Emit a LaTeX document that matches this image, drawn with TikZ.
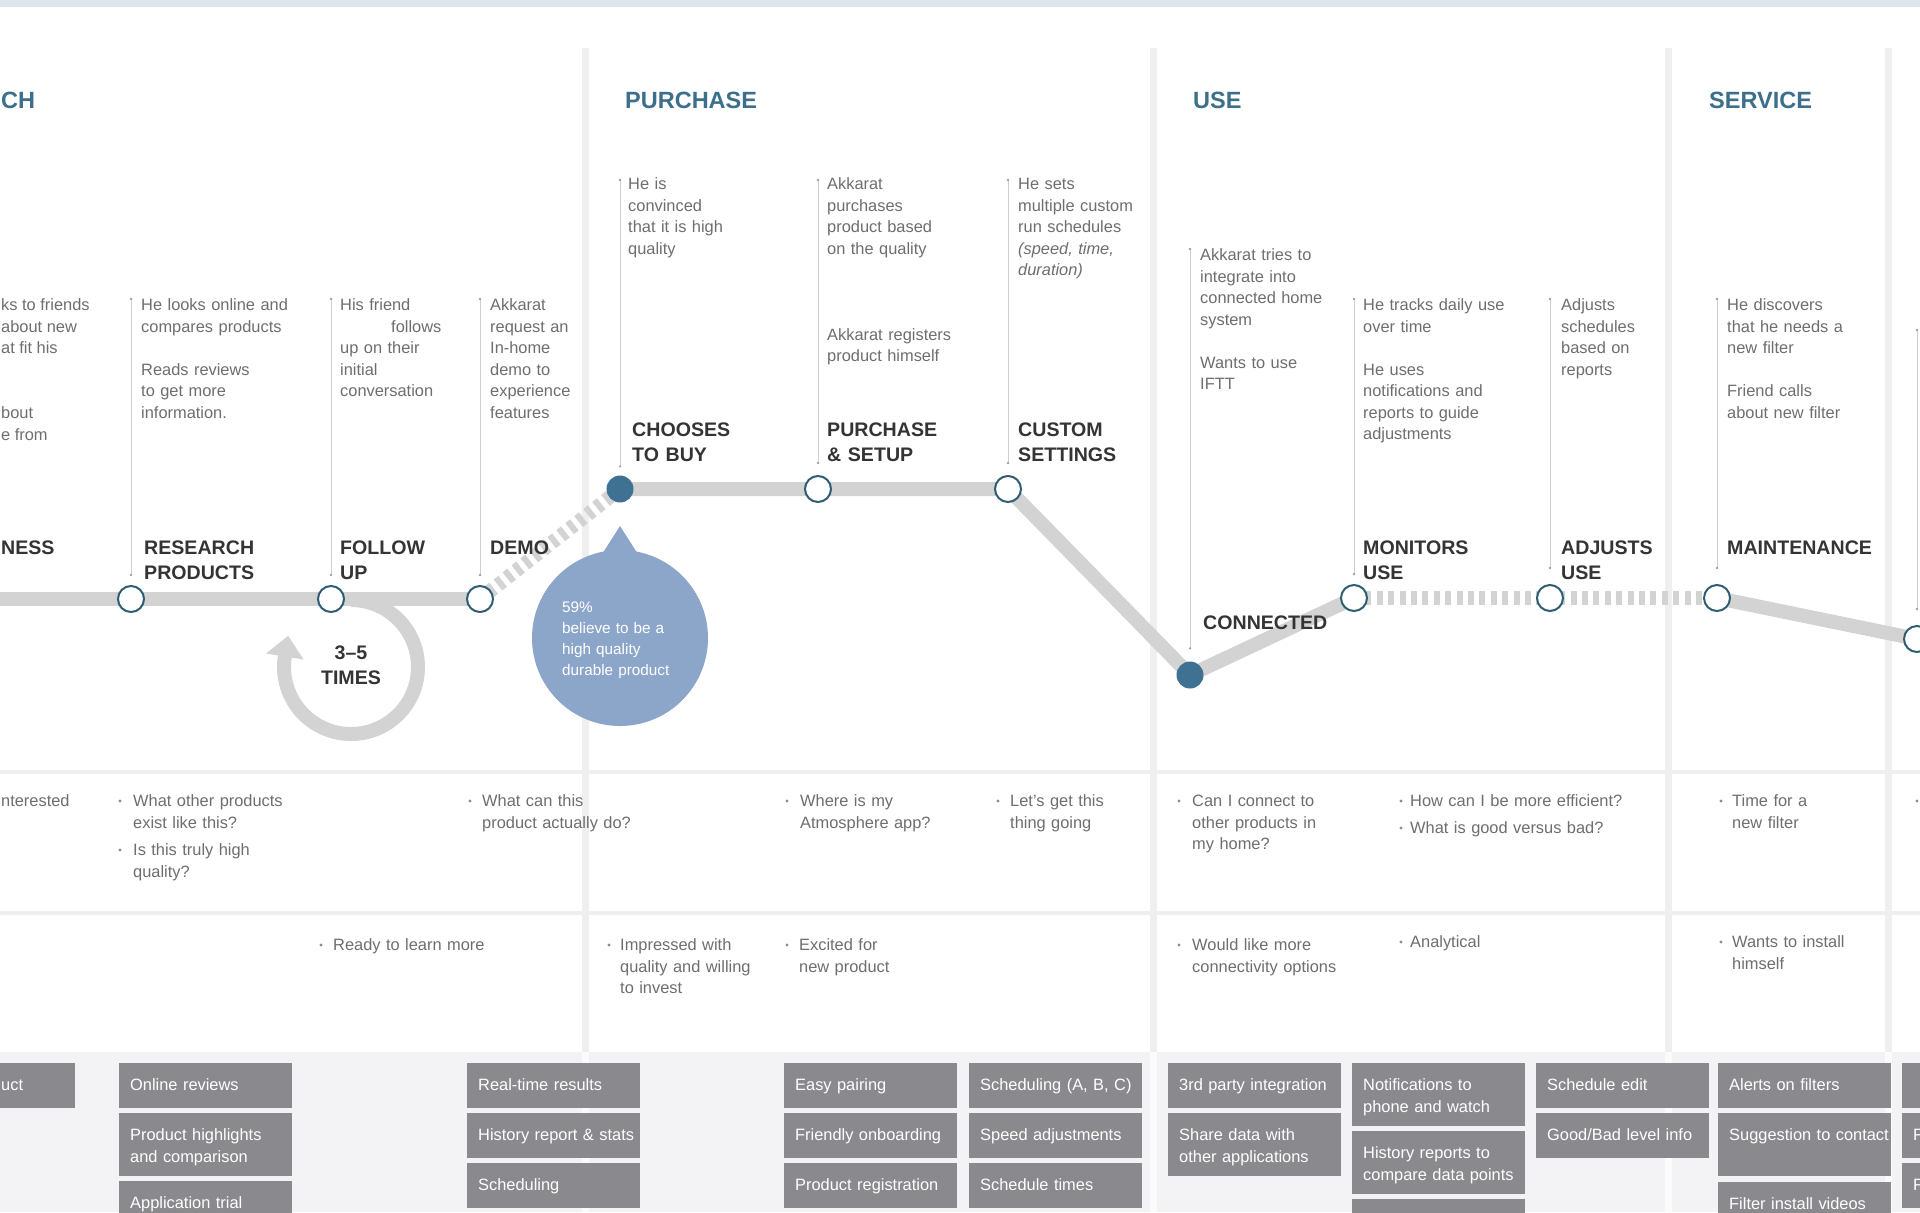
\documentclass[tikz,border=0pt]{standalone}
\usepackage{fontspec}
\setmainfont{Liberation Sans}
\usetikzlibrary{calc}
\definecolor{titleblue}{HTML}{3C6F8B}
\definecolor{stagedark}{HTML}{343434}
\definecolor{txtgrey}{HTML}{6E6E6E}
\definecolor{trailgrey}{HTML}{D3D3D3}
\definecolor{ringc}{HTML}{2F5E74}
\definecolor{nodeblue}{HTML}{3E7192}
\definecolor{bubblue}{HTML}{8CA6CA}
\definecolor{sepgrey}{HTML}{EFEFEF}
\definecolor{seplight}{HTML}{FBFBFC}
\definecolor{vlinegrey}{HTML}{CFCFCF}
\definecolor{dotgrey}{HTML}{A0A0A0}
\definecolor{bulgrey}{HTML}{8C8C8C}
\definecolor{boxgrey}{HTML}{8A8A8E}
\definecolor{bandgrey}{HTML}{F3F3F5}
\definecolor{topband}{HTML}{DDE6EE}
\newcommand\dscfont{\fontsize{16.4bp}{21.5bp}\selectfont}
\newcommand\stgfont{\fontsize{19.6bp}{25.5bp}\selectfont\bfseries}
\newcommand\ttlfont{\fontsize{23.5bp}{28bp}\selectfont\bfseries}
\newcommand\bubfont{\fontsize{15.3bp}{21.3bp}\selectfont}
\pgfdeclarelayer{back}
\pgfdeclarelayer{mid}
\pgfsetlayers{back,mid,main}
\begin{document}
\begin{tikzpicture}[x=1bp,y=-1bp,
  trail/.style={draw=trailgrey,line width=14bp,line join=round},
  trailD/.style={trail,dash pattern=on 6bp off 5.4bp},
  stepnode/.style={circle,draw=ringc,line width=2bp,fill=white,minimum size=26bp,inner sep=0pt},
  keynode/.style={circle,fill=nodeblue,minimum size=27bp,inner sep=0pt},
  desc/.style={font=\dscfont,text=txtgrey,inner sep=0pt,anchor=base west,align=left,text width=300bp},
  frag/.style={font=\dscfont,text=txtgrey,inner sep=0pt,anchor=base west},
  stage/.style={font=\stgfont,text=stagedark,inner sep=0pt,anchor=base west,align=left,text width=220bp},
  ttl/.style={font=\ttlfont,text=titleblue,inner sep=0pt,anchor=base west},
  vline/.style={draw=vlinegrey,line width=1bp},
  gbox/.style={fill=boxgrey,anchor=north west,inner sep=0pt,minimum width=173bp},
  btxt/.style={font=\dscfont,text=white,inner sep=0pt,anchor=base west,align=left,text width=175bp},
]
\useasboundingbox (0,0) rectangle (1920,1212);
\clip (0,0) rectangle (1920,1212);

% ---------- background structure
\begin{pgfonlayer}{back}
  \clip (0,0) rectangle (1920,1212);
  \fill[white] (0,0) rectangle (1920,1212);
  \fill[topband] (0,0) rectangle (1920,7);
  \fill[bandgrey] (0,1052) rectangle (1920,1212);
  \foreach \sx in {585,1153,1668,1888}{
    \fill[sepgrey] (\sx-3.5,48) rectangle (\sx+3.5,1052);
    \fill[seplight] (\sx-3.5,1052) rectangle (\sx+3.5,1212);
  }
  \fill[sepgrey] (0,770) rectangle (1920,774);
  \fill[sepgrey] (0,911) rectangle (1920,915);
\end{pgfonlayer}

% ---------- titles
\node[ttl] (tch) at (1,108.5) {CH};
\node[ttl] (tpur) at (625,108.5) {PURCHASE};
\node[ttl] (tuse) at (1193,108.5) {USE};
\node[ttl] (tser) at (1709,108.5) {SERVICE};

% ---------- journey nodes
\coordinate (l0) at (-10,599);
\node[stepnode] (nres) at (131,599) {};
\node[stepnode] (nfol) at (331,599) {};
\node[stepnode] (ndemo) at (480,599) {};
\node[keynode] (nbuy) at (620,489) {};
\node[stepnode] (nset) at (818,489) {};
\node[stepnode] (ncus) at (1008,489) {};
\node[keynode] (ncon) at (1190,675) {};
\node[stepnode] (nmon) at (1354,598) {};
\node[stepnode] (nadj) at (1550,598) {};
\node[stepnode] (nmnt) at (1717,598) {};
\node[stepnode] (nr) at (1917,639) {};

% ---------- trail, loop, description lines
\begin{pgfonlayer}{mid}
  \clip (0,0) rectangle (1920,1212);
  \draw[trail] (l0) -- (nres.center) -- (nfol.center) -- (ndemo.center);
  \draw[trailD] (ndemo.center) -- (nbuy.center);
  \draw[trail] (nbuy.center) -- (nset.center) -- (ncus.center) -- (ncon.center) -- (nmon.center);
  \draw[trailD] (nmon.center) -- (nadj.center) -- (nmnt.center);
  \draw[trail] (nmnt.center) -- (nr.center);
  % loop
  \coordinate (lc) at (351,667);
  \draw[trail] (351,600) arc[start angle=-90,end angle=190,radius=67];
  \fill[trailgrey] ($(lc)+(189:86)$) -- ($(lc)+(189:67)+(279:21)$) -- ($(lc)+(189:48)$) -- cycle;
  % description lines
  \foreach \tx/\ty/\nd/\gp in {131/299/nres/10, 331/299/nfol/10, 480/299/ndemo/10,
      620/180/nbuy/9, 818/180/nset/12, 1008/180/ncus/12, 1190/249/ncon/13,
      1354/299/nmon/10, 1550/299/nadj/16, 1717/299/nmnt/16, 1917/330/nr/16}{
    \coordinate (top) at (\tx,\ty);
    \draw[vline] (top) -- ([yshift=\gp bp]\nd.north) coordinate (bot);
    \fill[dotgrey] (top) circle[radius=1.3bp] (bot) circle[radius=1.3bp];
  }
\end{pgfonlayer}

% ---------- bubble
\fill[bubblue] (620,526) -- (597,562) -- (643,562) -- cycle;
\node[circle,fill=bubblue,minimum size=176bp,inner sep=0pt] (bub) at (620,638) {};
\node[font=\bubfont,text=white,inner sep=0pt,anchor=base west,align=left,text width=150bp] (bubt) at (562,612) {59\%\\believe to be a\\high quality\\durable product};

% ---------- loop label
\node[font=\stgfont,text=stagedark,inner sep=0pt,anchor=base,align=center,text width=100bp] (times) at (351,659) {3–5\\TIMES};

% ---------- stage labels
\node[stage,text width=] (sness) at (1,554) {NESS};
\node[stage] (sres) at (144,554) {RESEARCH\\PRODUCTS};
\node[stage] (sfol) at (340,554) {FOLLOW\\UP};
\node[stage] (sdemo) at (490,554) {DEMO};
\node[stage] (sbuy) at (632,436) {CHOOSES\\TO BUY};
\node[stage] (sset) at (827,436) {PURCHASE\\\& SETUP};
\node[stage] (scus) at (1018,436) {CUSTOM\\SETTINGS};
\node[stage] (scon) at (1203,629) {CONNECTED};
\node[stage] (smon) at (1363,554) {MONITORS\\USE};
\node[stage] (sadj) at (1561,554) {ADJUSTS\\USE};
\node[stage] (smnt) at (1727,554) {MAINTENANCE};

% ---------- descriptions
\node[frag] (f1) at (1,310.5) {ks to friends};
\node[frag] (f2) at (1,332) {about new};
\node[frag] (f3) at (1,353.5) {at fit his};
\node[frag] (f4) at (1,418.5) {bout};
\node[frag] (f5) at (1,440) {e from};
\node[desc] (dres) at (141,310.5) {He looks online and\\compares products\\[21.5bp]Reads reviews\\to get more\\information.};
\node[desc] (dfol) at (340,310.5) {His friend\\\hspace*{51bp}follows\\up on their\\initial\\conversation};
\node[desc] (ddemo) at (490,310.5) {Akkarat\\request an\\In-home\\demo to\\experience\\features};
\node[desc] (dbuy) at (628,189.5) {He is\\convinced\\that it is high\\quality};
\node[desc] (dset) at (827,189.5) {Akkarat\\purchases\\product based\\on the quality\\[64.5bp]Akkarat registers\\product himself};
\node[desc] (dcus) at (1018,189.5) {He sets\\multiple custom\\run schedules\\\textit{(speed, time,}\\\textit{duration)}};
\node[desc] (dcon) at (1200,260.5) {Akkarat tries to\\integrate into\\connected home\\system\\[21.5bp]Wants to use\\IFTT};
\node[desc] (dmon) at (1363,310.5) {He tracks daily use\\over time\\[21.5bp]He uses\\notifications and\\reports to guide\\adjustments};
\node[desc] (dadj) at (1561,310.5) {Adjusts\\schedules\\based on\\reports};
\node[desc] (dmnt) at (1727,310.5) {He discovers\\that he needs a\\new filter\\[21.5bp]Friend calls\\about new filter};

% ---------- questions row
\node[frag] (q0) at (1,806.5) {nterested};
\node[desc] (q1) at (133,806.5) {What other products\\exist like this?};
\node[desc] (q2) at (133,855.5) {Is this truly high\\quality?};
\node[desc] (q3) at (482,806.5) {What can this\\product actually do?};
\node[desc] (q4) at (800,806.5) {Where is my\\Atmosphere app?};
\node[desc] (q5) at (1010,806.5) {Let’s get this\\thing going};
\node[desc] (q6) at (1192,806.5) {Can I connect to\\other products in\\my home?};
\node[desc] (q7) at (1410,806.5) {How can I be more efficient?};
\node[desc] (q8) at (1410,833.5) {What is good versus bad?};
\node[desc] (q9) at (1732,806.5) {Time for a\\new filter};
\foreach \bx/\by in {120/801,120/850,470/801,787/801,998/801,1179/801,1401/801,1401/828,1721/801,1917/801}{
  \fill[bulgrey] (\bx,\by) circle[radius=1.7bp];
}

% ---------- feelings row
\node[desc] (e1) at (333,950.5) {Ready to learn more};
\node[desc] (e2) at (620,950.5) {Impressed with\\quality and willing\\to invest};
\node[desc] (e3) at (799,950.5) {Excited for\\new product};
\node[desc] (e4) at (1192,950.5) {Would like more\\connectivity options};
\node[desc] (e5) at (1410,947.5) {Analytical};
\node[desc] (e6) at (1732,947.5) {Wants to install\\himself};
\foreach \bx/\by in {321/945,609/945,787/945,1179/945,1401/942,1721/942}{
  \fill[bulgrey] (\bx,\by) circle[radius=1.7bp];
}

% ---------- feature boxes
\node[gbox,minimum width=75bp,minimum height=45bp] (ba1) at (0,1063) {};
\node[btxt,text width=] at ([xshift=1bp,yshift=-27.5bp]ba1.north west) {uct};
\foreach \nm/\bx/\by/\bh/\tx in {
  bb1/119/1063/45/{Online reviews},
  bb2/119/1113/63/{Product highlights\\and comparison},
  bb3/119/1181/45/{Application trial},
  bc1/467/1063/45/{Real-time results},
  bc2/467/1113/45/{History report \& stats},
  bc3/467/1163/45/{Scheduling},
  bd1/784/1063/45/{Easy pairing},
  bd2/784/1113/45/{Friendly onboarding},
  bd3/784/1163/45/{Product registration},
  be1/969/1063/45/{Scheduling (A, B, C)},
  be2/969/1113/45/{Speed adjustments},
  be3/969/1163/45/{Schedule times},
  bf1/1168/1063/45/{3rd party integration},
  bf2/1168/1113/63/{Share data with\\other applications},
  bg1/1352/1063/63/{Notifications to\\phone and watch},
  bg2/1352/1131/63/{History reports to\\compare data points},
  bg3/1352/1199/45/{},
  bh1/1536/1063/45/{Schedule edit},
  bh2/1536/1113/45/{Good/Bad level info},
  bi1/1718/1063/45/{Alerts on filters},
  bi2/1718/1113/63/{Suggestion to contact},
  bi3/1718/1182/45/{Filter install videos},
  bj1/1902/1063/45/{},
  bj2/1902/1113/45/{F},
  bj3/1902/1163/45/{F}}{
  \node[gbox,minimum height=\bh bp] (\nm) at (\bx,\by) {};
  \node[btxt] at ([xshift=11bp,yshift=-27.5bp]\nm.north west) {\tx};
}
\end{tikzpicture}
\end{document}
